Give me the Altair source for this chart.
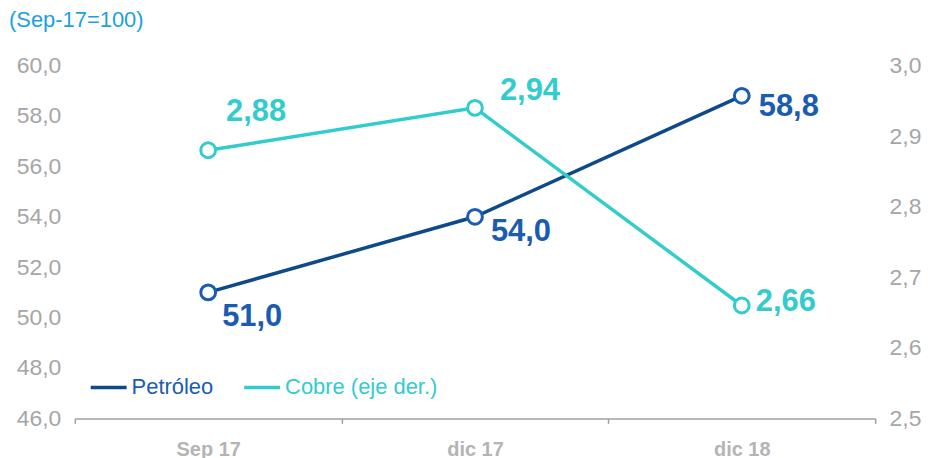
import altair as alt
import pandas as pd

categorias = ["Sep 17", "dic 17", "dic 18"]
petroleo = [51.0, 54.0, 58.8]
cobre = [2.88, 2.94, 2.66]
y_left_ticks = [46, 48, 50, 52, 54, 56, 58, 60]
y_right_ticks = [2.5, 2.6, 2.7, 2.8, 2.9, 3.0]

df = pd.DataFrame({"mes": categorias, "petroleo": petroleo, "cobre": cobre})
df["lab_p"] = [f"{v:.1f}".replace(".", ",") for v in petroleo]
df["lab_c"] = [f"{v:.2f}".replace(".", ",") for v in cobre]
df["s_p"] = "Petróleo"
df["s_c"] = "Cobre (eje der.)"

FONT = "Liberation Sans"
DARK = "#0E4A8A"
BLUE = "#1A5CB2"
CYAN = "#33CCCC"
GRAY = "#A6A6A6"

x_enc = alt.X(
    "mes:N", sort=categorias, title=None, bandPosition=0.5,
    scale=alt.Scale(type="band", paddingInner=0, paddingOuter=0),
    axis=alt.Axis(labelAngle=0, tickBand="extent", domainColor="#A0A0A0",
                  tickColor="#A0A0A0", tickSize=5, labelFontSize=20,
                  labelFontWeight="bold", labelColor="#B4B4B4", labelPadding=16,
                  labelFont=FONT, domainWidth=1.5, tickWidth=1.5),
)

base = alt.Chart(df)

yp = alt.Y("petroleo:Q", title=None,
           scale=alt.Scale(domain=[46, 60], nice=False, zero=False),
           axis=alt.Axis(values=y_left_ticks, domain=False, ticks=False, grid=False,
                         labelExpr="replace(format(datum.value, '.1f'), '.', ',')",
                         labelFontSize=23, labelColor=GRAY, labelFont=FONT, labelPadding=14))
yc = alt.Y("cobre:Q", title=None,
           scale=alt.Scale(domain=[2.5, 3.0], nice=False, zero=False),
           axis=alt.Axis(orient="right", values=y_right_ticks, domain=False, ticks=False,
                         grid=False,
                         labelExpr="replace(format(datum.value, '.1f'), '.', ',')",
                         labelFontSize=23, labelColor=GRAY, labelFont=FONT, labelPadding=14))

p_line = base.mark_line(strokeWidth=3.5).encode(
    x=x_enc, y=yp,
    color=alt.Color("s_p:N", scale=alt.Scale(domain=["Petróleo"], range=[DARK]),
                    legend=alt.Legend(title=None, orient="none", legendX=14, legendY=303,
                                      symbolType="stroke", symbolSize=1300,
                                      symbolStrokeWidth=3.5, labelFontSize=22,
                                      labelColor=BLUE, labelFont=FONT, labelOffset=3)),
)
p_pts = base.mark_point(shape="circle", filled=True, fill="white", stroke=BLUE,
                        strokeWidth=3, size=220, opacity=1).encode(x=x_enc, y=yp)

p_off = {"Sep 17": (14, 25), "dic 17": (16, 15), "dic 18": (17, 11)}
c_off = {"Sep 17": (18, -38), "dic 17": (25, -17), "dic 18": (14, -3)}

p_texts = [
    base.transform_filter(alt.datum.mes == m).mark_text(
        align="left", baseline="middle", dx=dx, dy=dy, fontSize=31, fontWeight="bold",
        font=FONT, color=BLUE).encode(x=x_enc, y=yp, text="lab_p:N")
    for m, (dx, dy) in p_off.items()
]

c_line = base.mark_line(strokeWidth=3.5).encode(
    x=x_enc, y=yc,
    color=alt.Color("s_c:N", scale=alt.Scale(domain=["Cobre (eje der.)"], range=[CYAN]),
                    legend=alt.Legend(title=None, orient="none", legendX=168, legendY=303,
                                      symbolType="stroke", symbolSize=1300,
                                      symbolStrokeWidth=3.5, labelFontSize=22,
                                      labelColor=CYAN, labelFont=FONT, labelOffset=3)),
)
c_pts = base.mark_point(shape="circle", filled=True, fill="white", stroke=CYAN,
                        strokeWidth=3, size=220, opacity=1).encode(x=x_enc, y=yc)
c_texts = [
    base.transform_filter(alt.datum.mes == m).mark_text(
        align="left", baseline="middle", dx=dx, dy=dy, fontSize=31, fontWeight="bold",
        font=FONT, color=CYAN).encode(x=x_enc, y=yc, text="lab_c:N")
    for m, (dx, dy) in c_off.items()
]

petro = alt.layer(p_line, p_pts, *p_texts)
cob = alt.layer(c_line, c_pts, *c_texts)

chart = alt.layer(petro, cob).resolve_scale(y="independent", color="independent").properties(
    width=803, height=354,
    title=alt.TitleParams("(Sep-17=100)", anchor="start", frame="group", dx=-66,
                          fontSize=22, fontWeight="normal", color="#1BA1E2", font=FONT,
                          offset=23),
    autosize=alt.AutoSizeParams(type="none"),
    padding={"left": 67, "top": 57, "right": 50, "bottom": 45},
).configure_view(stroke=None)

chart.save("out.html", embed_options={"renderer": "svg", "actions": False})
